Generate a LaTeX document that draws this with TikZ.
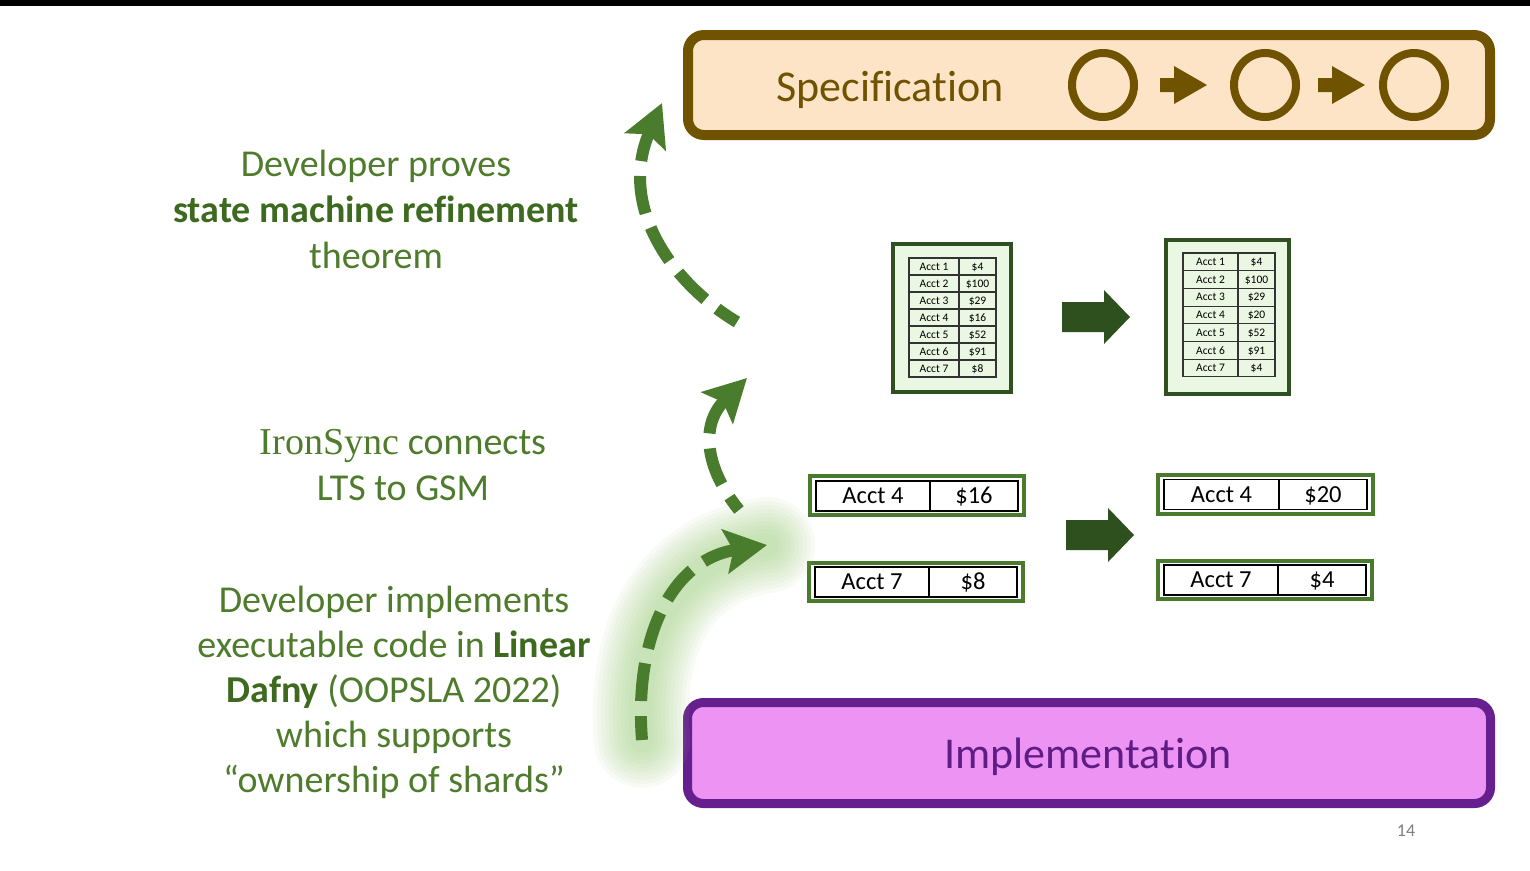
\documentclass[tikz,border=0pt]{standalone}
\usepackage{fontspec}
\newfontfamily\slidefont[Ligatures=NoCommon]{Carlito}
\newfontfamily\namefont{Liberation Serif}
\usetikzlibrary{arrows.meta,shapes.geometric}

\definecolor{specfillc}{HTML}{FDE4C6}
\definecolor{speclinec}{HTML}{705300}
\definecolor{implfillc}{HTML}{EC93F4}
\definecolor{impllinec}{HTML}{661F8F}
\definecolor{impltextc}{HTML}{5E1C84}
\definecolor{txtgreen}{HTML}{4E7C2C}
\definecolor{boldgreen}{HTML}{3D6A1F}
\definecolor{arrgreen}{HTML}{4A7C2E}
\definecolor{blockgreen}{HTML}{2E4F1E}
\definecolor{tblframec}{HTML}{2F5020}
\definecolor{tblfillc}{HTML}{EAF7E3}
\definecolor{cellline}{HTML}{333333}
\definecolor{recframec}{HTML}{4A7A2E}
\definecolor{glowgreen}{HTML}{9CCF7C}
\definecolor{pagegray}{HTML}{7F7F7F}

\tikzset{
  pics/specarrow/.style={code={
    \fill[speclinec] (0,-7) -- (14,-7) -- (14,-19) -- (47,0) -- (14,19) -- (14,7) -- (0,7) -- cycle;}},
  pics/bigarrow/.style={code={
    \fill[blockgreen] (0,-15) -- (42,-15) -- (42,-27) -- (68,0) -- (42,27) -- (42,15) -- (0,15) -- cycle;}}
}

\begin{document}
\begin{tikzpicture}[x=1pt,y=-1pt,
  every node/.style={inner sep=0pt, outer sep=0pt},
  specbox/.style={draw=speclinec, fill=specfillc, line width=10pt, rounded corners=16pt,
    minimum width=802pt, minimum height=100pt},
  implbox/.style={draw=impllinec, fill=implfillc, line width=9pt, rounded corners=16pt,
    minimum width=803pt, minimum height=101pt},
  ring/.style={ellipse, draw=speclinec, line width=8pt, minimum width=62pt, minimum height=64pt},
  notetext/.style={font=\slidefont\fontsize{38}{46}\selectfont, text=txtgreen, anchor=base},
  tabframe/.style={draw=tblframec, fill=tblfillc, line width=4pt},
  tcell/.style={draw=cellline, line width=1.1pt, font=\slidefont\fontsize{11.5}{11.5}\selectfont,
    text height=7.4pt, text depth=0pt},
  recbox/.style={draw=recframec, fill=white, line width=3.5pt},
  rcell/.style={draw=black, line width=1.8pt, font=\slidefont\fontsize{24.5}{24.5}\selectfont,
    text height=15.8pt, text depth=0pt, minimum height=30pt},
  dasharrow/.style={draw=arrgreen, line width=12pt, dash pattern=on 38pt off 15pt,
    -{Stealth[length=42pt,width=44pt,inset=8pt]}},
  glow/.style={draw=glowgreen, line cap=round, opacity=0.07},
]
\useasboundingbox (0,0) rectangle (1530,870);
\fill[white] (0,0) rectangle (1530,870);
\fill[black] (0,0) rectangle (1530,6);

% specification bar
\node[specbox] (spec) at (1089,85) {};
\node[font=\slidefont\fontsize{44}{44}\selectfont, text=speclinec, anchor=base] (spectitle) at (890,101) {Specification};
\node[ring] (s1) at (1103,85) {};
\node[ring] (s2) at (1265,85) {};
\node[ring] (s3) at (1414,85) {};
\pic at (1160,85) {specarrow};
\pic at (1318,85) {specarrow};

% implementation bar
\node[implbox] (impl) at (1089,753) {};
\node[font=\slidefont\fontsize{44}{44}\selectfont, text=impltextc, anchor=base] (impltitle) at (1088,768) {Implementation};

% whole-state tables
\node[tabframe, minimum width=118pt, minimum height=148pt] (tabA) at (952,318) {};
\foreach \n/\v [count=\i] in {1/\$4, 2/\$100, 3/\$29, 4/\$16, 5/\$52, 6/\$91, 7/\$8} {
  \node[tcell, minimum width=50pt, minimum height=17pt] (a\i l) at (934,{258+17*(\i-0.5)}) {Acct \n};
  \node[tcell, minimum width=37pt, minimum height=17pt] (a\i r) at (977.5,{258+17*(\i-0.5)}) {\v};
}
\node[tabframe, minimum width=123pt, minimum height=154pt] (tabB) at (1227.5,317) {};
\foreach \n/\v [count=\i] in {1/\$4, 2/\$100, 3/\$29, 4/\$20, 5/\$52, 6/\$91, 7/\$4} {
  \node[tcell, minimum width=55pt, minimum height=17.7pt] (b\i l) at (1210.5,{253+17.7*(\i-0.5)}) {Acct \n};
  \node[tcell, minimum width=37pt, minimum height=17.7pt] (b\i r) at (1256.5,{253+17.7*(\i-0.5)}) {\v};
}
\pic at (1062,317) {bigarrow};

% shard records
\node[recbox, minimum width=214pt, minimum height=39pt] (r1) at (917,495.5) {};
\node[rcell, minimum width=114pt] (r1a) at (873,496) {Acct 4};
\node[rcell, minimum width=88pt] (r1b) at (974,496) {\$16};
\node[recbox, minimum width=214pt, minimum height=38pt] (r2) at (916,582) {};
\node[rcell, minimum width=114pt] (r2a) at (872,582) {Acct 7};
\node[rcell, minimum width=88pt] (r2b) at (973,582) {\$8};
\node[recbox, minimum width=215pt, minimum height=39pt] (r3) at (1265.5,494.5) {};
\node[rcell, minimum width=115pt] (r3a) at (1221.5,494.5) {Acct 4};
\node[rcell, minimum width=88pt] (r3b) at (1323,494.5) {\$20};
\node[recbox, minimum width=214pt, minimum height=38pt] (r4) at (1265,580) {};
\node[rcell, minimum width=114pt] (r4a) at (1221,580) {Acct 7};
\node[rcell, minimum width=88pt] (r4b) at (1322,580) {\$4};
\pic at (1066,535) {bigarrow};

% left-hand notes
\node[notetext] (t1) at (376,176) {Developer proves};
\node[notetext, text=boldgreen, font=\slidefont\bfseries\fontsize{38}{46}\selectfont] (t2) at (376,222) {state machine refinement};
\node[notetext] (t3) at (376,268) {theorem};

\node[notetext] (m1) at (403,454) {{\namefont IronSync} connects};
\node[notetext] (m2) at (403,500) {LTS to GSM};

\node[notetext] (d1) at (394,612) {Developer implements};
\node[notetext] (d2) at (394,657) {executable code in {\bfseries\color{boldgreen}Linear}};
\node[notetext] (d3) at (394,702) {{\bfseries\color{boldgreen}Dafny} (OOPSLA 2022)};
\node[notetext] (d4) at (394,747) {which supports};
\node[notetext] (d5) at (394,792) {“ownership of shards”};

% dashed refinement arrows
\coordinate (aT) at (737,322);
\coordinate (aH) at (662,103);
\coordinate (bT) at (739,510);
\coordinate (bH) at (747,378);
\coordinate (cT) at (642,740);
\coordinate (cH) at (767,545);

% soft halo under the lowest arrow
\foreach \w in {96,88,80,72,64,56,48,40,32,24}
  \draw[glow, line width=\w pt] (cT) .. controls (634,640) and (670,560) .. (cH);

\draw[dasharrow, dash phase=14pt] (aT) .. controls (670,282) and (618,205) .. (aH);
\draw[dasharrow, dash phase=22pt] (bT) .. controls (705,468) and (700,425) .. (bH);
\draw[dasharrow, dash phase=14pt] (cT) .. controls (634,640) and (670,560) .. (cH);

\node[font=\slidefont\fontsize{18}{18}\selectfont, text=pagegray] (page) at (1406,831) {14};
\end{tikzpicture}
\end{document}
